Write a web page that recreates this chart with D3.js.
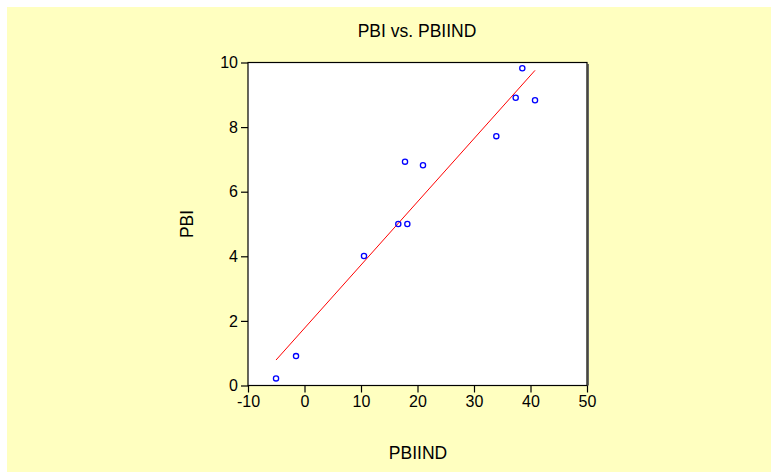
<!DOCTYPE html>
<html>
<head>
<meta charset="utf-8">
<script src="https://cdn.jsdelivr.net/npm/d3@7"></script>
<style>
  html, body { margin: 0; padding: 0; background: #ffffff; }
  svg { display: block; }
  text { font-family: "Liberation Sans", Arial, sans-serif; fill: #000; }
</style>
</head>
<body>
<svg id="chart" width="771" height="474"></svg>
<script>
// Data
const pbiind = [-5.04, -1.5, 10.53, 16.6, 18.2, 17.79, 20.97, 33.95, 37.38, 38.55, 40.8];
const pbi    = [0.22, 0.91, 4.01, 5.0, 5.0, 6.93, 6.82, 7.72, 8.91, 9.82, 8.83];
const xTicks = [-10, 0, 10, 20, 30, 40, 50];
const yTicks = [0, 2, 4, 6, 8, 10];
const titleText = "PBI vs. PBIIND";
const xLabel = "PBIIND";
const yLabel = "PBI";

const svg = d3.select("#chart");
const W = 771, H = 474;
const plot = { left: 248, right: 587, top: 62.5, bottom: 385.5 };

svg.append("rect").attr("x", 7).attr("y", 7).attr("width", W - 7).attr("height", 465)
  .attr("fill", "#ffffc0");

const x = d3.scaleLinear().domain([-10, 50]).range([plot.left, plot.right]);
const y = d3.scaleLinear().domain([0, 10]).range([plot.bottom, plot.top]);

// shadow on the right
svg.append("rect").attr("x", plot.right + 0.5).attr("y", plot.top + 1.5)
  .attr("width", 1.5).attr("height", plot.bottom - plot.top - 1.5).attr("fill", "#666");

svg.append("rect").attr("x", plot.left).attr("y", plot.top)
  .attr("width", plot.right - plot.left).attr("height", plot.bottom - plot.top)
  .attr("fill", "#ffffff").attr("stroke", "#000").attr("stroke-width", 1.2);

const fmt = d => String(d);
const xAxis = svg.append("g").attr("transform", `translate(0,${plot.bottom})`)
  .call(d3.axisBottom(x).tickValues(xTicks).tickFormat(fmt).tickSize(7).tickSizeOuter(0).tickPadding(3));
const yAxis = svg.append("g").attr("transform", `translate(${plot.left},0)`)
  .call(d3.axisLeft(y).tickValues(yTicks).tickFormat(fmt).tickSize(7).tickSizeOuter(0).tickPadding(3));
[xAxis, yAxis].forEach(g => {
  g.select(".domain").remove();
  g.selectAll(".tick line").attr("stroke", "#000").attr("stroke-width", 1.2);
  g.selectAll(".tick text").attr("font-size", 16).attr("font-family", "Liberation Sans, Arial, sans-serif").attr("fill", "#000");
});

// OLS fit
const n = pbiind.length;
const mx = d3.mean(pbiind), my = d3.mean(pbi);
let sxy = 0, sxx = 0;
for (let i = 0; i < n; i++) { sxy += (pbiind[i] - mx) * (pbi[i] - my); sxx += (pbiind[i] - mx) ** 2; }
const b = sxy / sxx, a = my - b * mx;
const [xmin, xmax] = d3.extent(pbiind);
svg.append("line")
  .attr("x1", x(xmin)).attr("y1", y(a + b * xmin))
  .attr("x2", x(xmax)).attr("y2", y(a + b * xmax))
  .attr("stroke", "#ff0000").attr("stroke-width", 1);

svg.append("g").selectAll("circle").data(d3.range(n)).join("circle")
  .attr("cx", i => x(pbiind[i])).attr("cy", i => y(pbi[i])).attr("r", 2.6)
  .attr("fill", "none").attr("stroke", "#0000ff").attr("stroke-width", 1.3);

svg.append("text").attr("x", 417).attr("y", 36.5).attr("text-anchor", "middle")
  .attr("font-size", 17.5).text(titleText);
svg.append("text").attr("x", 418).attr("y", 459).attr("text-anchor", "middle")
  .attr("font-size", 17.5).text(xLabel);
svg.append("text").attr("transform", "translate(193,224) rotate(-90)").attr("text-anchor", "middle")
  .attr("font-size", 17.5).text(yLabel);
</script>
</body>
</html>
